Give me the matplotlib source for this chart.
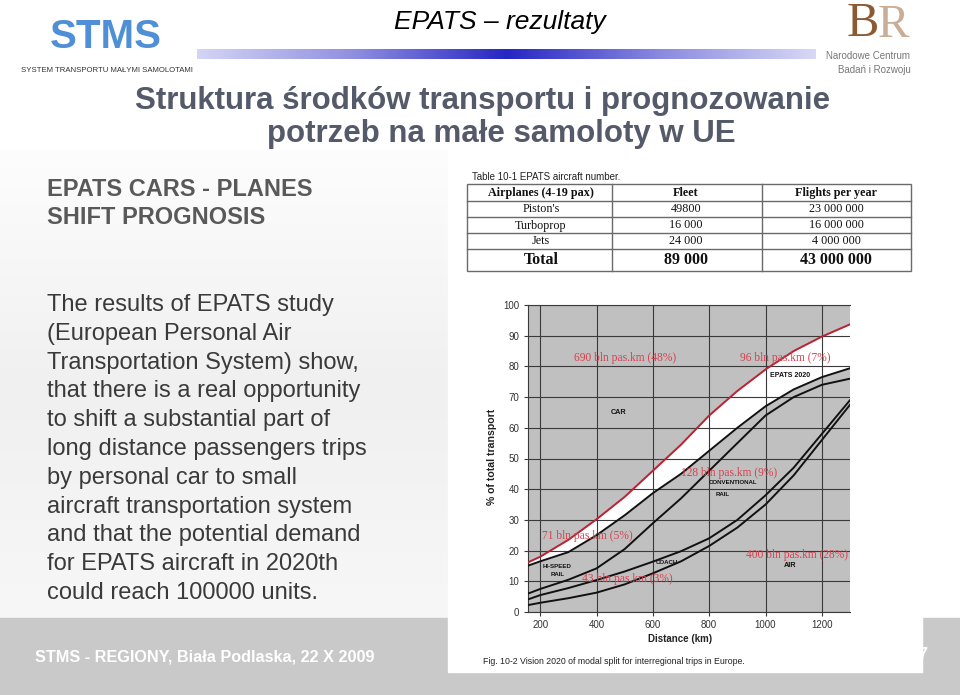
import matplotlib
matplotlib.use('Agg')
import matplotlib.pyplot as plt
import numpy as np
from matplotlib.patches import Rectangle
from matplotlib.colors import LinearSegmentedColormap

# ---------------- data ----------------
distance_km = [160, 200, 300, 400, 500, 600, 700, 800, 900, 1000, 1100, 1200, 1300]
epats_top = [16.3, 18.0, 23.5, 30.2, 37.5, 46.0, 54.5, 64.0, 72.0, 79.0, 85.0, 89.7, 93.7]
hispeed_top = [15.2, 16.5, 19.5, 25.0, 31.5, 38.7, 45.0, 52.5, 60.0, 67.0, 72.5, 76.5, 79.4]
conv_rail_top = [6.1, 7.5, 10.5, 14.2, 20.5, 28.9, 37.0, 46.0, 55.0, 64.0, 70.0, 74.0, 76.0]
coach_top = [4.2, 5.5, 7.8, 10.4, 13.2, 16.4, 19.8, 24.0, 30.0, 38.0, 47.0, 58.0, 69.0]
air_top = [2.3, 3.0, 4.5, 6.3, 9.0, 12.6, 16.5, 21.5, 27.5, 35.0, 44.5, 56.0, 67.5]

x_ticks = [200, 400, 600, 800, 1000, 1200]
y_ticks = [0, 10, 20, 30, 40, 50, 60, 70, 80, 90, 100]

red_labels = ["690 bln pas.km (48%)", "96 bln pas.km (7%)", "128 bln pas.km (9%)",
              "71 bln pas.km (5%)", "43 bln pas.km (3%)", "400 bln pas.km (28%)"]
red_label_x = [502, 1071, 871, 367, 508, 1111]
red_label_y = [82.6, 82.6, 45.2, 24.8, 10.6, 18.6]
mode_labels = ["CAR", "EPATS 2020", "CONVENTIONAL", "RAIL", "HI-SPEED", "RAIL", "COACH", "AIR"]
mode_label_x = [478, 1088, 884, 848, 261, 261, 650, 1087]
mode_label_y = [65.0, 76.9, 42.2, 38.4, 14.8, 12.3, 16.1, 15.0]

table_header = ["Airplanes (4-19 pax)", "Fleet", "Flights per year"]
aircraft_types = ["Piston's", "Turboprop", "Jets"]
fleet = ["49800", "16 000", "24 000"]
flights_per_year = ["23 000 000", "16 000 000", "4 000 000"]
table_total = ["Total", "89 000", "43 000 000"]

body_lines = ["The results of EPATS study",
              "(European Personal Air",
              "Transportation System) show,",
              "that there is a real opportunity",
              "to shift a substantial part of",
              "long distance passengers trips",
              "by personal car to small",
              "aircraft transportation system",
              "and that the potential demand",
              "for EPATS aircraft in 2020th",
              "could reach 100000 units."]

# ---------------- figure ----------------
W, H = 960, 695
fig = plt.figure(figsize=(W / 100, H / 100), dpi=100)
fig.patch.set_facecolor('white')
SANS = ['Liberation Sans', 'DejaVu Sans']
SERIF = ['Liberation Serif', 'DejaVu Serif']

bg = fig.add_axes([0, 0, 1, 1])
bg.set_xlim(0, W)
bg.set_ylim(H, 0)
bg.axis('off')

# left panel light gradient
grad = np.linspace(0, 1, 256).reshape(-1, 1)
cm_left = LinearSegmentedColormap.from_list('lg', ['#fdfdfd', '#f0f0f0', '#f7f7f7'])
bg.imshow(grad, extent=[0, 448, 620, 150], cmap=cm_left, aspect='auto', zorder=0)

# footer band
bg.add_patch(Rectangle((0, 618), W, H - 618, color='#c9c9c9', zorder=1))
bg.text(35, 657, "STMS - REGIONY, Biała Podlaska, 22 X 2009", color='white',
        fontsize=11.7, fontweight='bold', family=SANS, va='center', ha='left', zorder=2)
bg.text(917, 655, "7", color='white', fontsize=13, fontweight='bold', family=SANS,
        va='center', ha='left', zorder=2)

# white image panel
bg.add_patch(Rectangle((448, 155), 922 - 448, 672 - 155, color='white', zorder=3))

# header gradient bar
cm_bar = LinearSegmentedColormap.from_list('bar', ['#d4d4f6', '#9090e0', '#2626c4', '#8a8ae0', '#d8d8f6'])
gbar = np.linspace(0, 1, 512).reshape(1, -1)
bg.imshow(gbar, extent=[197, 816, 59, 49], cmap=cm_bar, aspect='auto', zorder=2)

# header texts
bg.text(500, 22, "EPATS – rezultaty", fontsize=19, style='italic', family=SANS,
        ha='center', va='center', color='black', zorder=4)
bg.text(106, 37, "STMS", fontsize=29, fontweight='bold',
        family=['Liberation Sans Narrow', 'Liberation Sans'], ha='center', va='center',
        color='#4f8fd6', zorder=4)
bg.text(107, 70, "SYSTEM TRANSPORTU MAŁYMI SAMOLOTAMI", fontsize=5.6,
        family=['Liberation Sans Narrow', 'Liberation Sans'], ha='center', va='center',
        color='#333333', zorder=4)
bg.text(863, 24, "B", fontsize=35, family=SERIF, ha='center', va='center',
        color='#8c5a32', zorder=4)
bg.text(893, 26, "R", fontsize=34, family=SERIF, ha='center', va='center',
        color='#c9ad96', zorder=3.5)
bg.text(868, 56, "Narodowe Centrum", fontsize=7, family=SANS, ha='center', va='center',
        color='#777777', zorder=5)
bg.text(874, 70, "Badań i Rozwoju", fontsize=7, family=SANS, ha='center', va='center',
        color='#777777', zorder=5)

# title
title_col = '#555a6a'
bg.text(483, 101, "Struktura środków transportu i prognozowanie", fontsize=22.5,
        fontweight='bold', family=SANS, ha='center', va='center', color=title_col, zorder=4)
bg.text(501, 134, "potrzeb na małe samoloty w UE", fontsize=22.5,
        fontweight='bold', family=SANS, ha='center', va='center', color=title_col, zorder=4)

# left texts
bg.text(47, 190, "EPATS CARS - PLANES", fontsize=17, fontweight='bold', family=SANS,
        ha='left', va='center', color='#595959', zorder=4)
bg.text(47, 218, "SHIFT PROGNOSIS", fontsize=17, fontweight='bold', family=SANS,
        ha='left', va='center', color='#595959', zorder=4)
for i, line in enumerate(body_lines):
    bg.text(47, 305 + i * 28.8, line, fontsize=17, family=SANS, ha='left',
            va='center', color='#3a3a3a', zorder=4)

# table
bg.text(472, 177, "Table 10-1 EPATS aircraft number.", fontsize=7, family=SANS,
        ha='left', va='center', color='#222222', zorder=5)
tx0, tx1 = 467, 911
ty0, ty1 = 184, 271
col_x = [612, 762]
row_y = [200.7, 216.7, 233.3, 249.3]
lc = '#6a6a6a'
bg.add_patch(Rectangle((tx0, ty0), tx1 - tx0, ty1 - ty0, fill=False, ec=lc, lw=1.0, zorder=5))
for cx in col_x:
    bg.plot([cx, cx], [ty0, ty1], color=lc, lw=1.0, zorder=5)
for ry in row_y:
    bg.plot([tx0, tx1], [ry, ry], color=lc, lw=1.0, zorder=5)
col_c = [541, 686, 836]
for c, t in zip(col_c, table_header):
    bg.text(c, 193, t, fontsize=8.7, fontweight='bold', family=SERIF, ha='center',
            va='center', color='#111111', zorder=6)
rows = list(zip(aircraft_types, fleet, flights_per_year))
for r, ry in zip(rows, [209, 225.5, 241.5]):
    for c, t in zip(col_c, r):
        bg.text(c, ry, t, fontsize=8.7, family=SERIF, ha='center', va='center',
                color='#111111', zorder=6)
for c, t in zip(col_c, table_total):
    bg.text(c, 260.5, t, fontsize=11.5, fontweight='bold', family=SERIF, ha='center',
            va='center', color='#111111', zorder=6)

# chart captions
bg.text(680, 639, "Distance (km)", fontsize=7, fontweight='bold', family=SANS,
        ha='center', va='center', color='#222222', zorder=6)
bg.text(483, 662, "Fig. 10-2 Vision 2020 of modal split for interregional trips in Europe.",
        fontsize=6.3, family=SANS, ha='left', va='center', color='#222222', zorder=6)
bg.text(492, 457, "% of total transport", fontsize=7.6, fontweight='bold', family=SANS,
        ha='center', va='center', rotation=90, color='#222222', zorder=6)

# ---------------- chart ----------------
left, right, top, bottom = 527.5, 850, 305, 612
ax = fig.add_axes([left / W, 1 - bottom / H, (right - left) / W, (bottom - top) / H])
ax.set_zorder(10)
ax.set_facecolor('#c0c0c0')
ax.set_xlim(155, 1300)
ax.set_ylim(0, 100)

ax.fill_between(distance_km, hispeed_top, epats_top, color='white', lw=0, zorder=1)
ax.set_xticks(x_ticks)
ax.set_yticks(y_ticks)
ax.grid(True, color='#3a3a3a', lw=0.8, zorder=2)
ax.set_axisbelow(False)
ax.plot(distance_km, epats_top, color='#bd2232', lw=1.4, zorder=4)
for s in [hispeed_top, conv_rail_top, coach_top, air_top]:
    ax.plot(distance_km, s, color='#111111', lw=1.4, zorder=4)

for t, x, y in zip(red_labels, red_label_x, red_label_y):
    ax.text(x, y, t, color='#d8404e', fontsize=8.3, family=SERIF, ha='center',
            va='center', zorder=6)
for t, x, y in zip(mode_labels, mode_label_x, mode_label_y):
    fs = 5.2 if t in ("CAR", "AIR") else 4.4
    if t == "EPATS 2020":
        fs = 5.0
    ax.text(x, y, t, color='#111111', fontsize=fs, fontweight='bold', family=SANS,
            ha='center', va='center', zorder=6)

ax.spines['right'].set_visible(False)
for sp in ['left', 'bottom', 'top']:
    ax.spines[sp].set_color('#3a3a3a')
    ax.spines[sp].set_linewidth(0.8)
ax.tick_params(axis='both', length=3, width=0.8, color='#3a3a3a', labelsize=7,
               labelcolor='#333333', pad=3)
for lab in ax.get_xticklabels() + ax.get_yticklabels():
    lab.set_family(SANS)

fig.savefig('out.png', dpi=100)
